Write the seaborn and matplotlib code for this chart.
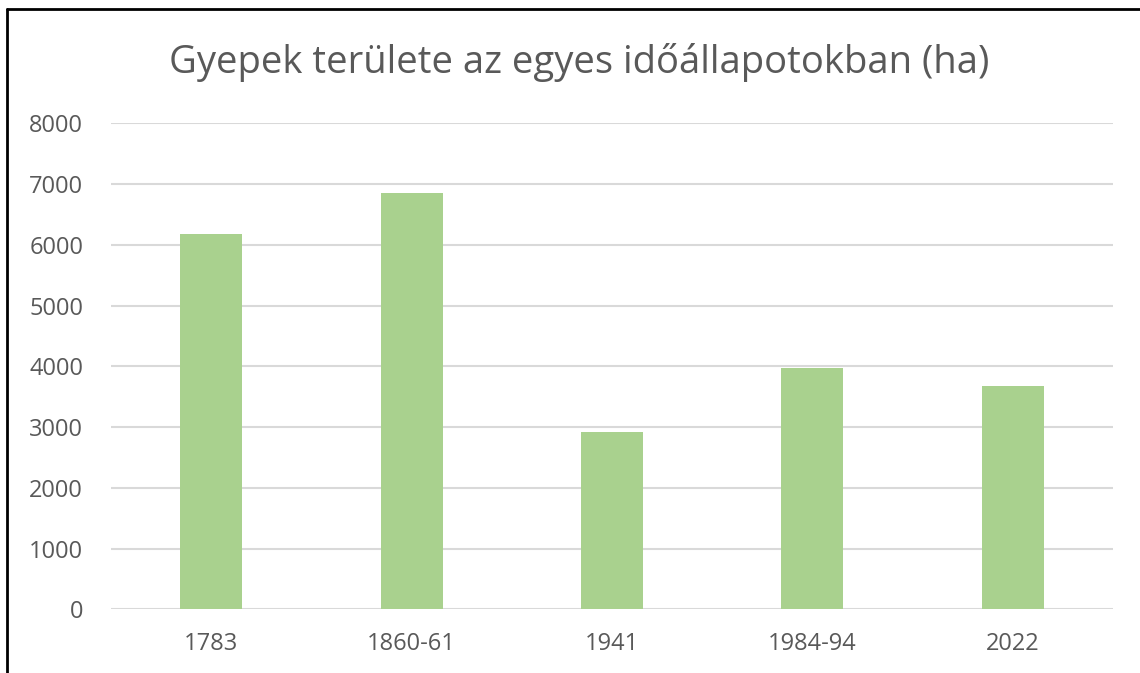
import matplotlib
matplotlib.use("Agg")
import matplotlib.pyplot as plt
from matplotlib.lines import Line2D
import seaborn as sns
import pandas as pd

categories = ["1783", "1860-61", "1941", "1984-94", "2022"]
values = [6180, 6860, 2920, 3980, 3680]
yticks = [0, 1000, 2000, 3000, 4000, 5000, 6000, 7000, 8000]
title = "Gyepek területe az egyes időállapotokban (ha)"

sns.set_style("white")
plt.rcParams["font.family"] = ["Open Sans", "DejaVu Sans"]

df = pd.DataFrame({"period": categories, "area": values})

fig = plt.figure(figsize=(11.4, 6.73), dpi=100)
ax = fig.add_axes([111 / 1140, 1 - 609.3 / 673, (1113 - 111) / 1140, (609.3 - 123.3) / 673])

sns.barplot(data=df, x="period", y="area", color="#A9D18E", saturation=1,
            width=0.31, ax=ax, zorder=3, linewidth=0)

ax.set_ylim(0, 8000)
ax.set_xlim(-0.5, len(categories) - 0.5)
ax.set_yticks(yticks)
ax.set_yticklabels([str(t) for t in yticks])
ax.yaxis.grid(True, color="#D9D9D9", linewidth=1.5, zorder=0)
ax.set_axisbelow(True)
for s in ax.spines.values():
    s.set_visible(False)
ax.set_xlabel("")
ax.set_ylabel("")
ax.tick_params(axis="y", length=0, pad=20, labelsize=17, labelcolor="#595959")
ax.tick_params(axis="x", length=0, pad=16, labelsize=17, labelcolor="#595959")

fig.text(0.508, 1 - 63 / 673, title, ha="center", va="center", fontsize=27.5, color="#595959")

# outer frame (top and left edges visible in the reference)
fig.add_artist(Line2D([7 / 1140, 1.0], [1 - 9 / 673, 1 - 9 / 673], color="black", linewidth=2, transform=fig.transFigure))
fig.add_artist(Line2D([7 / 1140, 7 / 1140], [0.0, 1 - 9 / 673], color="black", linewidth=2, transform=fig.transFigure))

fig.savefig("out.png", dpi=100)
